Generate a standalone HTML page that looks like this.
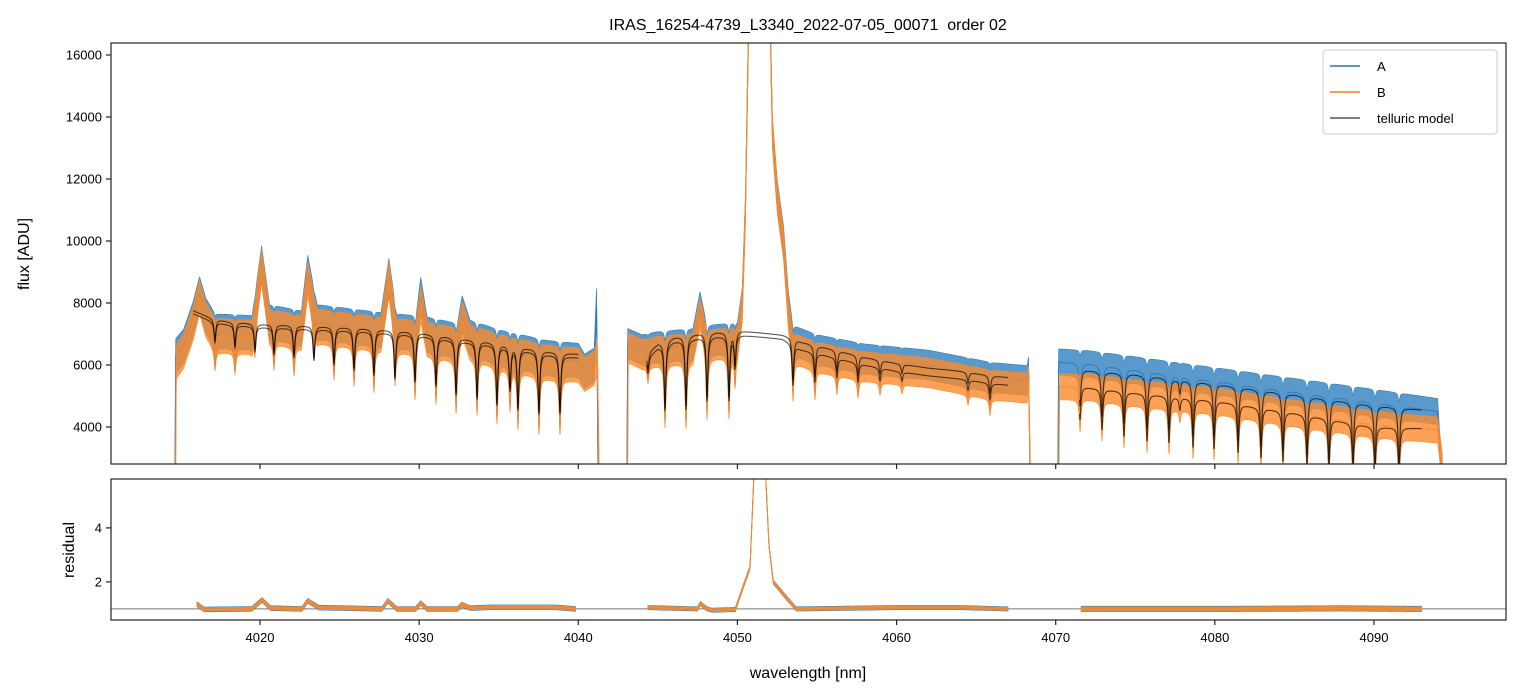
<!DOCTYPE html>
<html><head><meta charset="utf-8"><style>
body{margin:0;background:#fff;}
svg{display:block;font-family:"Liberation Sans","DejaVu Sans",sans-serif;}
</style></head><body>
<svg id="chart" width="1520" height="696" viewBox="0 0 1520 696" xmlns="http://www.w3.org/2000/svg">
<rect width="1520" height="696" fill="#fff"/>
<defs>
<clipPath id="clipTop"><rect x="111" y="43" width="1395" height="421"/></clipPath>
<clipPath id="clipBot"><rect x="111" y="479" width="1395" height="141"/></clipPath>
</defs>
<text x="808" y="30" text-anchor="middle" font-size="16" xml:space="preserve" style="white-space:pre">IRAS_16254-4739_L3340_2022-07-05_00071  order 02</text>
<g id="topMarks" clip-path="url(#clipTop)"></g>
<g id="botMarks" clip-path="url(#clipBot)"></g>
<rect x="111" y="43" width="1395" height="421" fill="none" stroke="#222" stroke-width="1.2"/>
<rect x="111" y="479" width="1395" height="141" fill="none" stroke="#222" stroke-width="1.2"/>
<g id="axes"></g>
<text transform="translate(29,254) rotate(-90)" text-anchor="middle" font-size="16">flux [ADU]</text>
<text transform="translate(74,550) rotate(-90)" text-anchor="middle" font-size="16">residual</text>
<text x="808" y="678" text-anchor="middle" font-size="16">wavelength [nm]</text>
<g>
<rect x="1323" y="50" width="174" height="84" fill="#fff" fill-opacity="0.85" stroke="#ccc" rx="3"/>
<line x1="1330" y1="66" x2="1360" y2="66" stroke="#1f77b4" stroke-width="1.5"/>
<text x="1377" y="71" font-size="13">A</text>
<line x1="1330" y1="92" x2="1360" y2="92" stroke="#ff7f0e" stroke-width="1.5"/>
<text x="1377" y="97" font-size="13">B</text>
<line x1="1330" y1="118" x2="1360" y2="118" stroke="#555" stroke-width="1.5"/>
<text x="1377" y="123" font-size="13">telluric model</text>
</g>
</svg>
<script>
// ---- data ----
const xTicks = [4020,4030,4040,4050,4060,4070,4080,4090];
const yTicksTop = [4000,6000,8000,10000,12000,14000,16000];
const yTicksBot = [2,4];
const lineCenters = [4017.17,4018.43,4019.69,4020.88,4022.14,4023.39,4024.65,4025.91,4027.16,4028.48,4029.74,4031.06,4032.32,4033.64,4034.89,4035.71,4036.21,4037.53,4038.85,
 4044.38,4045.45,4046.77,4048.09,4049.47,4049.85,4053.49,4054.87,4056.25,4057.58,4058.96,4060.34,4064.49,4065.87,
 4071.53,4072.91,4074.29,4075.74,4077.12,4077.8,4078.63,4079.95,4081.46,4082.90,4084.28,4085.79,4087.17,4088.68,4090.06,4091.57];
const lineDepths = [0.09,0.10,0.11,0.12,0.13,0.14,0.16,0.18,0.2,0.21,0.22,0.23,0.26,0.27,0.29,0.21,0.30,0.31,0.30,
 0.08,0.32,0.33,0.30,0.30,0.15,0.2,0.15,0.1,0.1,0.07,0.05,0.06,0.1,
 0.2,0.25,0.28,0.3,0.3,0.08,0.32,0.32,0.33,0.35,0.36,0.38,0.4,0.4,0.4,0.4];
const modelA = [
 [[4015.8,7750],[4016.3,7650],[4017,7500],[4018,7400],[4020,7320],[4023,7260],[4026,7200],[4028,7130],[4030,7050],[4032,6900],[4034,6780],[4036,6620],[4038,6450],[4040,6350]],
 [[4044.3,6350],[4045,6700],[4046,6900],[4048,7050],[4050,7100],[4050.3,7100],[4052.8,6970],[4053.4,6900],[4054,6750],[4056,6500],[4058,6250],[4060,6050],[4062,5900],[4064,5800],[4066,5650],[4067,5600]],
 [[4071.5,5850],[4075,5700],[4080,5400],[4085,5050],[4090,4700],[4093,4550]]];
const modelB = [
 [[4015.8,7650],[4016.3,7550],[4017,7400],[4018,7300],[4020,7220],[4023,7160],[4026,7100],[4028,7030],[4030,6950],[4032,6800],[4034,6680],[4036,6520],[4038,6340],[4040,6230]],
 [[4044.3,6200],[4045,6550],[4046,6750],[4048,6900],[4050,6950],[4050.3,6960],[4052.8,6840],[4053.4,6700],[4054,6500],[4056,6250],[4058,6000],[4060,5800],[4062,5650],[4064,5550],[4066,5400],[4067,5350]],
 [[4071.5,5300],[4075,5100],[4080,4850],[4085,4450],[4090,4000],[4093,3950]]];
const dataA = [
 [[4014.66,2700],[4014.70,6300],[4015.2,6600],[4015.8,7500],[4016.2,8300],[4016.6,7600],[4017.2,7100],[4019.5,7050],[4020.1,9300],[4020.6,7400],[4022.6,7200],[4023.0,9000],[4023.6,7400],[4027.6,7150],[4028.1,8900],[4028.6,7100],[4029.8,7050],[4030.1,8300],[4030.5,7000],[4032.4,6800],[4032.7,7700],[4033.2,6900],[4035,6600],[4038,6250],[4040,6150],[4040.4,5800],[4041.0,6000],[4041.15,8000],[4041.24,2700]],
 [[4043.06,2700],[4043.1,6700],[4044,6500],[4045,6600],[4047.2,6700],[4047.65,7900],[4048.1,6800],[4050,6900],[4050.3,8000],[4050.5,11000],[4050.7,17000],[4051,30000],[4051.8,30000],[4052.1,16000],[4052.2,13500],[4052.5,11500],[4052.9,10000],[4053.2,7900],[4053.5,6800],[4055,6500],[4058,6200],[4062,6000],[4066,5600],[4068.2,5500],[4068.3,5800],[4068.38,2700]],
 [[4070.14,2700],[4070.18,6100],[4072,6050],[4075,5850],[4080,5500],[4085,5150],[4090,4800],[4094,4500],[4094.21,2700]]];
const dataB = [
 [[4014.7,2700],[4014.74,6100],[4015.2,6450],[4015.8,7350],[4016.2,8200],[4016.6,7450],[4017.2,6950],[4019.5,6900],[4020.1,9200],[4020.6,7250],[4022.6,7050],[4023.0,8800],[4023.6,7250],[4027.6,7000],[4028.1,8800],[4028.6,6950],[4029.8,6900],[4030.1,8000],[4030.5,6850],[4032.4,6650],[4032.7,7500],[4033.2,6750],[4035,6450],[4038,6100],[4040,6000],[4040.4,5700],[4041.0,5900],[4041.2,6300],[4041.3,2700]],
 [[4043.1,2700],[4043.14,6550],[4044,6350],[4045,6450],[4047.2,6550],[4047.65,7700],[4048.1,6650],[4050,6750],[4050.3,7900],[4050.5,11000],[4050.7,17000],[4051,30000],[4051.8,30000],[4052.1,16000],[4052.2,13500],[4052.5,11400],[4052.9,9900],[4053.2,7700],[4053.5,6550],[4055,6250],[4058,5950],[4062,5750],[4066,5350],[4068.2,5250],[4068.3,5500],[4068.4,2700]],
 [[4070.2,2700],[4070.24,5300],[4072,5300],[4075,5100],[4080,4850],[4085,4450],[4090,4100],[4094,3900],[4094.3,2700]]];
const residA = [
 [[4016.04,1.17],[4016.5,0.98],[4019.47,1.0],[4020.13,1.33],[4020.66,1.03],[4022.64,1.0],[4023.0,1.30],[4023.7,1.05],[4027.67,1.0],[4028.04,1.3],[4028.6,1.0],[4029.78,1.0],[4030.1,1.22],[4030.5,1.0],[4032.42,1.0],[4032.68,1.16],[4033.2,1.03],[4034.5,1.06],[4038.5,1.06],[4039.83,1.0]],
 [[4044.37,1.05],[4047.5,1.0],[4047.67,1.2],[4048.1,1.0],[4048.4,0.95],[4049.87,0.98],[4050.4,1.89],[4050.79,2.52],[4051.04,6.0],[4051.4,6.6],[4051.77,6.0],[4051.98,3.37],[4052.25,2.0],[4053.04,1.44],[4053.7,1.0],[4060,1.05],[4064,1.05],[4067.0,1.0]],
 [[4071.6,1.0],[4080,1.0],[4088,1.02],[4093.0,1.0]]];
const noiseTop = [550,480,420];
const noiseBot = [0.09,0.08,0.1];

// ---- scales ----
const X0=111,X1=1506,WMIN=4010.637,WMAX=4098.295;
const T0=43,T1=464,FMIN=2806,FMAX=16387;
const B0=479,B1=620,RMIN=0.59,RMAX=5.81;
const xs = w => X0+(w-WMIN)/(WMAX-WMIN)*(X1-X0);
const yT = f => T1-(f-FMIN)/(FMAX-FMIN)*(T1-T0);
const yB = r => B1-(r-RMIN)/(RMAX-RMIN)*(B1-B0);
function interp(k,w){for(let i=0;i<k.length-1;i++){if(w<=k[i+1][0]){const t=(w-k[i][0])/(k[i+1][0]-k[i][0]);return k[i][1]+t*(k[i+1][1]-k[i][1]);}}return k[k.length-1][1];}
function trans(w){let t=1;for(let i=0;i<lineCenters.length;i++){const d=(w-lineCenters[i])/0.065;t*=1-lineDepths[i]/(1+d*d);}return t;}
const NS='http://www.w3.org/2000/svg';
function mk(tag,attrs,parent){const e=document.createElementNS(NS,tag);for(const k in attrs)e.setAttribute(k,attrs[k]);parent.appendChild(e);return e;}
function samples(k){const a=[];const s=k[0][0],e=k[k.length-1][0];for(let w=s;w<=e+1e-9;w+=0.012)a.push(w);if(a[a.length-1]<e)a.push(e);return a;}
const topG=document.getElementById('topMarks'), botG=document.getElementById('botMarks'), axesG=document.getElementById('axes');

function band(knots,noise,useT,ysc,color,name,parent){
  const ws=samples(knots);
  const base=ws.map(w=>interp(knots,w));
  const c=ws.map((w,i)=>base[i]*(useT?trans(w):1));
  const up=ws.map((w,i)=>xs(w).toFixed(2)+','+ysc(base[i]*(useT?Math.pow(trans(w),0.12):1)+noise).toFixed(2));
  const lo=ws.map((w,i)=>xs(w).toFixed(2)+','+ysc(c[i]-noise*(useT?Math.pow(trans(w),0.3):1)).toFixed(2)).reverse();
  const p=mk('polygon',{points:up.concat(lo).join(' '),fill:color,'fill-opacity':0.8,stroke:color,'stroke-width':0.6},parent);
  
  
  const l=mk('polyline',{points:ws.map((w,i)=>xs(w).toFixed(2)+','+ysc(c[i]).toFixed(2)).join(' '),fill:'none',stroke:color,'stroke-width':1},parent);
  
  
}
function modelLine(knots,name){
  const ws=samples(knots);
  const l=mk('polyline',{points:ws.map(w=>xs(w).toFixed(2)+','+yT(interp(knots,w)*trans(w)).toFixed(2)).join(' '),fill:'none',stroke:'#000','stroke-opacity':0.65,'stroke-width':1.1},topG);
  
  
}
dataA.forEach((k,i)=>band(k,noiseTop[i],true,yT,'#2f7fbf','spectrum-a-seg'+(i+1),topG));
dataB.forEach((k,i)=>band(k,noiseTop[i],true,yT,'#fb8a2a','spectrum-b-seg'+(i+1),topG));
modelA.forEach((k,i)=>modelLine(k,'telluric-model-a-seg'+(i+1)));
modelB.forEach((k,i)=>modelLine(k,'telluric-model-b-seg'+(i+1)));

const ref=mk('line',{x1:X0,x2:X1,y1:yB(1),y2:yB(1),stroke:'#777','stroke-width':1},botG);


residA.forEach((k,i)=>band(k,noiseBot[i],false,yB,'#2f7fbf','residual-a-seg'+(i+1),botG));
residA.forEach((k,i)=>band(k,noiseBot[i]*0.75,false,yB,'#fb8a2a','residual-b-seg'+(i+1),botG));

// ---- axes ----
xTicks.forEach(v=>{
  const x=xs(v);
  const t1=mk('line',{x1:x,x2:x,y1:T1,y2:T1+5,stroke:'#222','stroke-width':1.2},axesG);
  
  
  const t2=mk('line',{x1:x,x2:x,y1:B1,y2:B1+5,stroke:'#222','stroke-width':1.2},axesG);
  
  
  const lb=mk('text',{x:x,y:B1+22,'text-anchor':'middle','font-size':13},axesG);
  lb.textContent=v;
  
  
});
yTicksTop.forEach(v=>{
  const y=yT(v);
  const t=mk('line',{x1:X0-5,x2:X0,y1:y,y2:y,stroke:'#222','stroke-width':1.2},axesG);
  
  
  const lb=mk('text',{x:X0-9,y:y+4.5,'text-anchor':'end','font-size':13},axesG);
  lb.textContent=v;
  
  
});
yTicksBot.forEach(v=>{
  const y=yB(v);
  const t=mk('line',{x1:X0-5,x2:X0,y1:y,y2:y,stroke:'#222','stroke-width':1.2},axesG);
  
  
  const lb=mk('text',{x:X0-9,y:y+4.5,'text-anchor':'end','font-size':13},axesG);
  lb.textContent=v;
  
  
});
</script>
</body></html>
